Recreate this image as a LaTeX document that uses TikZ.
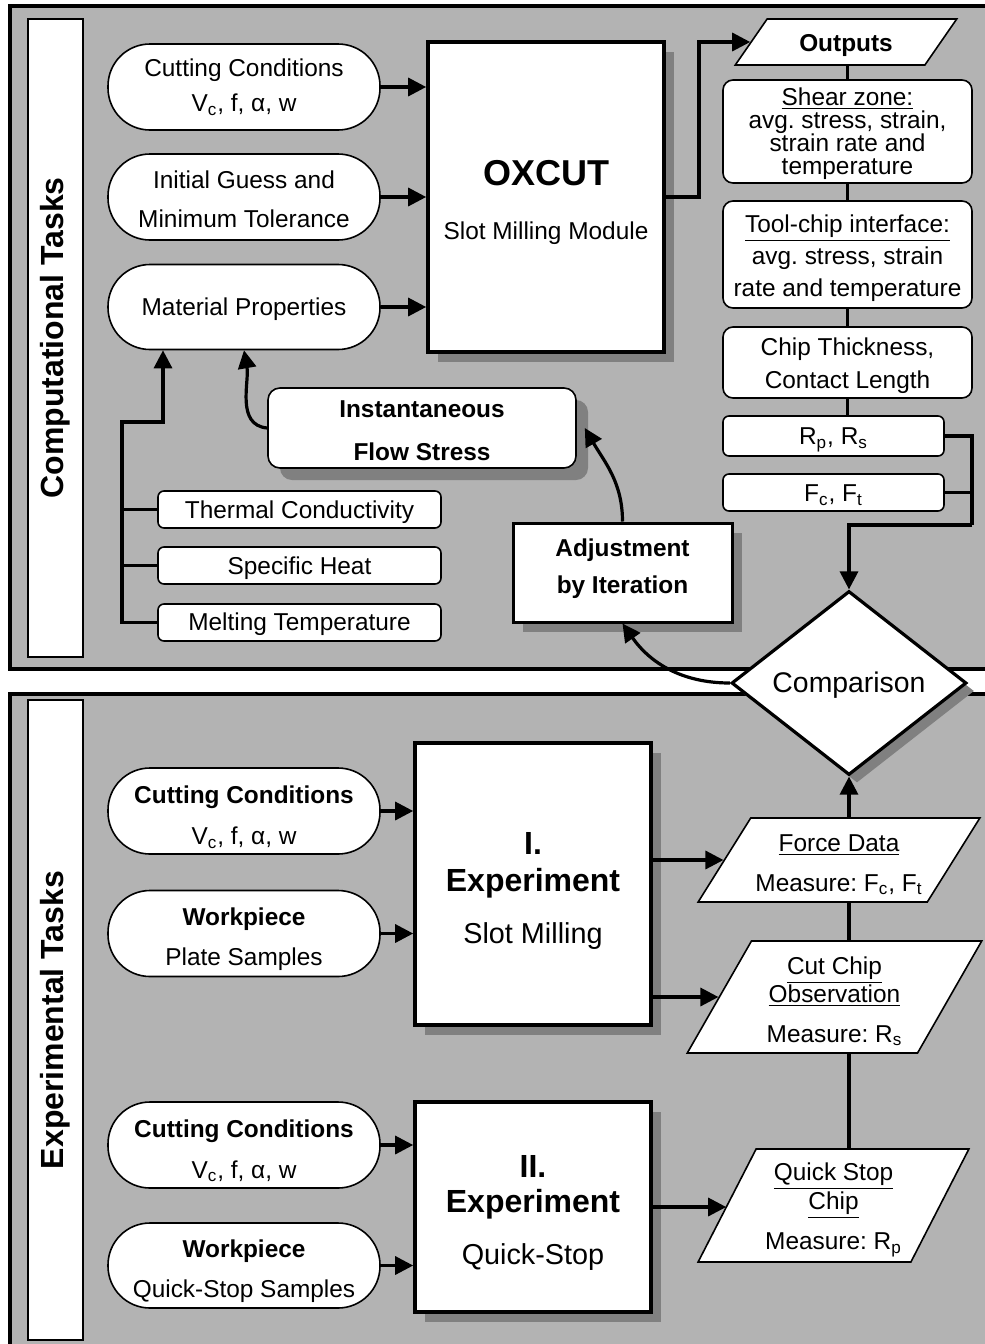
\documentclass[tikz,border=0pt]{standalone}
\usepackage{fontspec}
\setmainfont{Liberation Sans}
\usepackage{tikz}
\usetikzlibrary{arrows.meta}
\usetikzlibrary{shapes.geometric}
\usetikzlibrary{shadows}
\definecolor{panelgray}{HTML}{B3B3B3}
\definecolor{shadowgray}{HTML}{808080}
\newcommand{\headroom}[1]{\rule{0pt}{#1}}
\tikzset{x=0.5pt, y=-0.5pt,
 every node/.style={font=\fontsize{12.2}{14.6}\selectfont, align=center, inner sep=0pt},
 panel/.style={draw=black, line width=1.6pt, fill=panelgray},
 strip/.style={draw=black, line width=0.8pt, fill=white, rotate=90,
   minimum height=27.5pt, font=\bfseries\fontsize{16}{19}\selectfont},
 stadium/.style={draw=black, line width=0.8pt, fill=white, rounded corners=21pt,
   minimum width=136pt, minimum height=43pt},
 outbox/.style={draw=black, line width=0.8pt, fill=white, rounded corners=5pt,
   minimum width=124.5pt},
 smallbox/.style={draw=black, line width=0.8pt, fill=white, rounded corners=3pt,
   minimum height=18.5pt},
 module/.style={draw=black, line width=1.8pt, fill=white, minimum width=118pt,
   general shadow={fill=shadowgray, shadow xshift=5pt, shadow yshift=-5pt}},
 datashape/.style={trapezium, trapezium stretches=true, draw=black,
   line width=0.8pt, fill=white},
 decision/.style={diamond, draw=black, line width=1.6pt, fill=white,
   font=\fontsize{14.2}{17}\selectfont,
   general shadow={fill=shadowgray, shadow xshift=4pt, shadow yshift=-4pt}},
 wire/.style={line width=1.6pt},
 arr/.style={wire, -{Triangle[length=9pt,width=9pt]}},
}

\begin{document}
\frenchspacing
\begin{tikzpicture}
    \useasboundingbox (0,0) rectangle (985,1344);
    \clip (0,0) rectangle (985,1344);
    % the two panels
    \draw[panel] (10,6) rectangle (1010,669);
    \draw[panel] (10,694) rectangle (1010,1370);
    \node[strip, minimum width=319pt] (comptasks) at (55.5,338) {Computational Tasks};
    \node[strip, minimum width=320pt] (exptasks) at (55.5,1020) {Experimental Tasks};

    % computational tasks
    \node[stadium] (cond) at (244,87) {Cutting Conditions\\[2.9pt]V\textsubscript{c}, f, α, w};
    \node[stadium] (guess) at (244,197) {\headroom{11pt}Initial Guess and\\[4.9pt]Minimum Tolerance};
    \node[stadium, minimum height=42.5pt] (matprop) at (244,307) {\headroom{11pt}Material Properties};
    \node[module, minimum height=155pt, font=\bfseries\fontsize{18}{27}\selectfont] (oxcut) at (546,197)
        {\headroom{17.9pt}OXCUT\\{\mdseries\fontsize{12.2}{14.6}\selectfont Slot Milling Module}};
    \node[datashape, trapezium left angle=57, trapezium right angle=123,
        minimum width=111pt, minimum height=23pt, font=\bfseries\fontsize{12.2}{14.6}\selectfont]
        (outputs) at (846,42) {\headroom{12pt}Outputs};
    \node[outbox, minimum height=51.5pt] (shear) at (847.5,131.5)
        {\headroom{11pt}\underline{Shear zone:}\\[-3.1pt]avg. stress, strain,\\[-3.1pt]strain rate and\\[-3.1pt]temperature};
    \node[outbox, minimum height=53.5pt] (toolchip) at (847.5,254.5)
        {\headroom{12.5pt}\underline{Tool-chip interface:}\\[1.4pt]avg. stress, strain\\[1.4pt]rate and temperature};
    \node[outbox, minimum height=35.5pt] (chip) at (847.5,362.5) {\headroom{12pt}Chip Thickness,\\[1.9pt]Contact Length};
    \node[smallbox, minimum width=110.5pt, minimum height=20pt] (ratio) at (833.5,436)
        {\headroom{12pt}R\textsubscript{p}, R\textsubscript{s}};
    \node[smallbox, minimum width=110.5pt] (force) at (833.5,492.5) {\headroom{11pt}F\textsubscript{c}, F\textsubscript{t}};
    \node[decision, minimum width=117.5pt, minimum height=86pt] (compare) at (849,683) {\headroom{12.5pt}Comparison};
    \node[module, minimum width=109.5pt, minimum height=49.5pt, line width=1.5pt,
        font=\bfseries\fontsize{12.2}{14.6}\selectfont] (adjust) at (622.5,572.5)
        {Adjustment\\[3.9pt]by Iteration\rule[-6.6pt]{0pt}{0pt}};
    \node[draw=black, line width=0.8pt, fill=white, rounded corners=6pt, minimum width=154pt,
        minimum height=40pt, font=\bfseries\fontsize{12.2}{14.6}\selectfont,
        general shadow={fill=shadowgray, shadow xshift=6pt, shadow yshift=-6pt}]
        (flowstress) at (422,428) {\headroom{11pt}Instantaneous\\[6.9pt]Flow Stress};
    \node[smallbox, minimum width=141.5pt] (conduct) at (299.5,509.5) {\headroom{11.5pt}Thermal Conductivity};
    \node[smallbox, minimum width=141.5pt] (heat) at (299.5,565.5) {\headroom{11.5pt}Specific Heat};
    \node[smallbox, minimum width=141.5pt] (melt) at (299.5,622.5) {\headroom{11pt}Melting Temperature};

    % experimental tasks
    \node[stadium] (cond2) at (244,811) {\headroom{15pt}\textbf{Cutting Conditions}\\[5.9pt]V\textsubscript{c}, f, α, w};
    \node[stadium] (plate) at (244,933.5) {\headroom{15pt}\textbf{Workpiece}\\[5.4pt]Plate Samples};
    \node[module, minimum height=141pt, font=\bfseries\fontsize{16}{19}\selectfont] (slot) at (533,884)
        {\headroom{18pt}I.\\[-0.5pt]Experiment\\[7pt]{\mdseries\fontsize{14.4}{17}\selectfont Slot Milling}};
    \node[datashape, trapezium left angle=54.5, trapezium right angle=125.5,
        minimum width=141pt, minimum height=42pt] (forcedata) at (839,860)
        {\headroom{13pt}\underline{Force Data}\\[5.4pt]Measure: F\textsubscript{c}, F\textsubscript{t}};
    \node[datashape, trapezium left angle=61.8, trapezium right angle=118.2,
        minimum width=147.5pt, minimum height=56pt] (chipobs) at (834.5,997)
        {\headroom{13pt}\underline{Cut Chip}\\[-0.6pt]\underline{Observation}\\[5.4pt]Measure: R\textsubscript{s}};
    \node[stadium] (cond3) at (244,1145) {\headroom{14.5pt}\textbf{Cutting Conditions}\\[5.9pt]V\textsubscript{c}, f, α, w};
    \node[stadium, minimum height=42.5pt] (qsample) at (244,1265.5) {\headroom{15pt}\textbf{Workpiece}\\[5.4pt]Quick-Stop Samples};
    \node[module, minimum height=105pt, font=\bfseries\fontsize{16}{19}\selectfont] (quick) at (533,1207)
        {\headroom{16.5pt}II.\\[-1.5pt]Experiment\\[7pt]{\mdseries\fontsize{14.4}{17}\selectfont Quick-Stop}};
    \node[datashape, trapezium left angle=63.6, trapezium right angle=116.4,
        minimum width=135.5pt, minimum height=56.5pt] (qschip) at (833.5,1205.5)
        {\headroom{13.5pt}\underline{Quick Stop}\\[-0.1pt]\underline{Chip}\\[5.4pt]Measure: R\textsubscript{p}};

    % connectors, computational part
    \draw[arr] (cond.east) -- (cond.east -| oxcut.west);
    \draw[arr] (guess.east) -- (guess.east -| oxcut.west);
    \draw[arr] (matprop.east) -- (matprop.east -| oxcut.west);
    \coordinate (bend) at (699,197);
    \draw[arr] (oxcut.east) -- (bend) |- (outputs.west);
    \draw[wire] (shear.north |- outputs.south) -- (shear.north);
    \draw[wire] (shear.south) -- (toolchip.north);
    \draw[wire] (toolchip.south) -- (chip.north);
    \draw[wire] (chip.south) -- (chip.south |- ratio.north);
    \coordinate (join) at (972,525);
    \draw[wire] (ratio.east) -| (join);
    \draw[wire] (force.east) -- (force.east -| join);
    \draw[arr] (join) -| (compare.north);
    \draw[arr] (compare.west) to[out=180, in=-55] (adjust.south);
    \draw[arr] (adjust.north) to[out=90, in=-60] ([xshift=4pt]flowstress.east);
    \draw[arr] (flowstress.west) to[out=175, in=-80] (matprop.south);
    \coordinate (trunk) at (122,422);
    \coordinate (riser) at (163,422);
    \draw[arr] (melt.west) -| (trunk) -- (riser) -- (riser |- matprop.south);
    \draw[wire] (conduct.west) -- (conduct.west -| trunk);
    \draw[wire] (heat.west) -- (heat.west -| trunk);

    % connectors, experimental part
    \draw[arr] (cond2.east) -- (cond2.east -| slot.west);
    \draw[arr] (plate.east) -- (plate.east -| slot.west);
    \draw[arr] (slot.east |- forcedata.west) -- (forcedata.west);
    \draw[arr] (slot.east |- chipobs.west) -- (chipobs.west);
    \draw[arr] (compare.south |- forcedata.north) -- (compare.south);
    \draw[wire] (compare.south |- chipobs.north) -- (compare.south |- forcedata.south);
    \draw[wire] (compare.south |- qschip.north) -- (compare.south |- chipobs.south);
    \draw[arr] (cond3.east) -- (cond3.east -| quick.west);
    \draw[arr] (qsample.east) -- (qsample.east -| quick.west);
    \draw[arr] (quick.east) -- (quick.east -| qschip.west);
\end{tikzpicture}
\end{document}
